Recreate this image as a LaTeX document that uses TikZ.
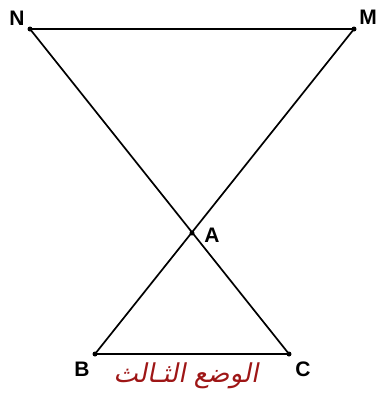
\documentclass[tikz,border=0pt]{standalone}
\usepackage{fontspec}
\setmainfont{Liberation Sans}
\newfontfamily\arabicfont[Script=Arabic,FakeSlant=0.2]{DejaVu Sans}
\TeXXeTstate=1
\definecolor{titlered}{HTML}{9E1616}
\begin{document}
\begin{tikzpicture}[x=1pt,y=-1pt,
  seg/.style={line width=1.7pt,black},
  pt/.style={circle,fill=black,inner sep=0pt,minimum size=5pt},
  lbl/.style={font=\fontsize{21}{21}\selectfont\bfseries,inner sep=0pt}]
\useasboundingbox (0,0) rectangle (377,400);
\node[pt] (N) at (30,29) {};
\node[pt] (M) at (354,29) {};
\node[pt] (A) at (192,233) {};
\node[pt] (B) at (95,354) {};
\node[pt] (C) at (289,354) {};
\draw[seg] (N.center) -- (M.center);
\draw[seg] (N.center) -- (C.center);
\draw[seg] (M.center) -- (B.center);
\draw[seg] (B.center) -- (C.center);
\node[lbl] (lN) at (17,18) {N};
\node[lbl] (lM) at (368,17) {M};
\node[lbl] (lA) at (212,235) {A};
\node[lbl] (lB) at (82,369) {B};
\node[lbl] (lC) at (303,369) {C};
\node[text=titlered,font=\fontsize{26}{26}\selectfont,inner sep=0pt] (t) at (186,376) {\arabicfont\beginR الوضع الثـالث\endR};
\end{tikzpicture}
\end{document}
